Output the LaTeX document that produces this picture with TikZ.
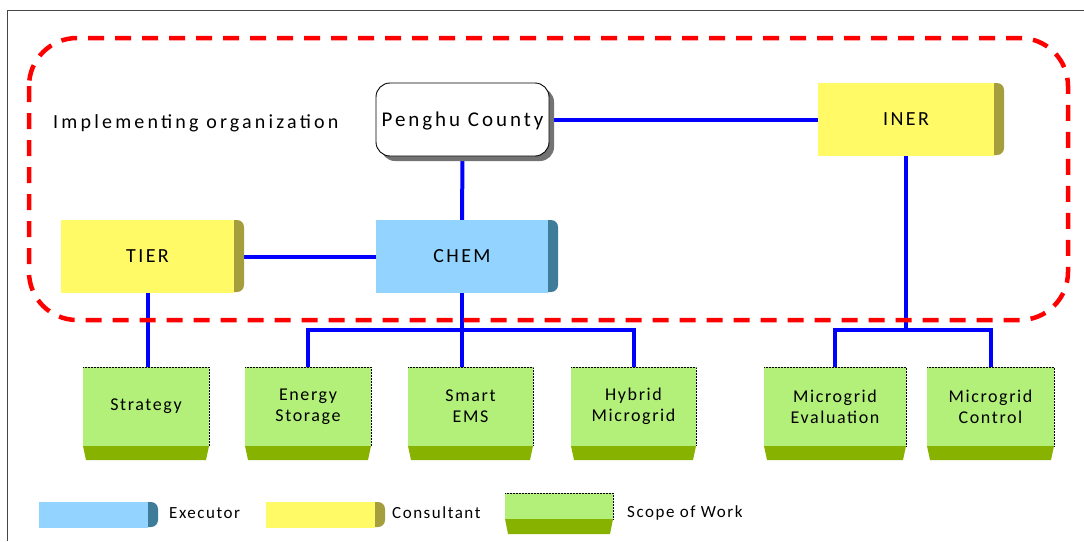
\documentclass[tikz,border=0pt]{standalone}
\usepackage{fontspec}
\setmainfont{Carlito}
\newfontfamily\lblfont{Carlito}[LetterSpace=12]
\newfontfamily\penghufont{Carlito}[LetterSpace=14]
\newfontfamily\implfont{Carlito}[LetterSpace=16]
\newfontfamily\smfont{Carlito}[LetterSpace=9]
\usetikzlibrary{shadows}
\definecolor{gface}{RGB}{178,240,122}
\definecolor{gbase}{RGB}{136,178,0}
\definecolor{yface}{RGB}{255,250,102}
\definecolor{yside}{RGB}{165,158,60}
\definecolor{bface}{RGB}{146,212,255}
\definecolor{bside}{RGB}{62,124,154}
\definecolor{cblue}{RGB}{0,0,255}
\definecolor{dred}{RGB}{255,0,0}
\definecolor{framecol}{RGB}{70,70,70}
\pgfdeclarelayer{connlayer}\pgfdeclarelayer{sidelayer}
\pgfsetlayers{connlayer,sidelayer,main}
\tikzset{
  box/.style={inner sep=0pt, outer sep=0pt, anchor=north west, align=center, text=black},
  bigtxt/.style={font=\lblfont\fontsize{20}{22}\selectfont, text depth=0pt},
  smtxt/.style={font=\smfont\fontsize{18}{21}\selectfont},
  legtxt/.style={font=\smfont\fontsize{17}{20}\selectfont, anchor=west, inner sep=0pt, text=black},
  conn/.style={draw=cblue, line width=4pt},
}
\newcommand\sidepiece[3]{%
  \begin{pgfonlayer}{sidelayer}
  \fill[#2, rounded corners=7pt] ([xshift=-14pt]#1.north east) rectangle ([xshift=#3,yshift=1pt]#1.south east);
  \end{pgfonlayer}}
\newcommand\basepiece[2]{%
  \fill[gbase] (#1.south west) -- (#1.south east) -- ([xshift=-3pt,yshift=-#2]#1.south east) -- ([xshift=3pt,yshift=-#2]#1.south west) -- cycle;
  \draw[densely dotted, line width=0.5pt] (#1.north west) -- (#1.north east) -- (#1.south east);}
\begin{document}
\begin{tikzpicture}[x=1pt, y=-1pt]
\useasboundingbox (0,0) rectangle (1084,541);
\draw[framecol, line width=1pt] (7.5,541) -- (7.5,10.5) -- (1084,10.5);
\draw[dred, line width=4.5pt, dash pattern=on 16pt off 11pt, rounded corners=48pt] (29,38) rectangle (1068,320);
\node[anchor=west, inner sep=0pt, text=black, font=\implfont\fontsize{20}{22}\selectfont] (impl) at (53,123) {Implementing organization};

% top boxes
\node[box, bigtxt, font=\penghufont\fontsize{21}{23}\selectfont, fill=white, draw=black, line width=0.9pt, rounded corners=14pt,
  minimum width=173pt, minimum height=73pt,
  drop shadow={shadow xshift=5pt, shadow yshift=-5pt, fill=black!55, opacity=1}] (penghu) at (376,83) {Penghu County};
\node[box, bigtxt, fill=yface, minimum width=176pt, minimum height=73pt] (iner) at (818,83) {INER};
\sidepiece{iner}{yside}{10pt}
\node[box, bigtxt, fill=yface, minimum width=173pt, minimum height=73pt] (tier) at (61,220) {TIER};
\sidepiece{tier}{yside}{10pt}
\node[box, bigtxt, fill=bface, minimum width=172pt, minimum height=73pt] (chem) at (376,220) {CHEM};
\sidepiece{chem}{bside}{10pt}

% bottom boxes
\node[box, smtxt, fill=gface, minimum width=126pt, minimum height=79pt] (strat) at (83,367) {Strategy};
\basepiece{strat}{14pt}
\node[box, smtxt, fill=gface, minimum width=126pt, minimum height=79pt] (energy) at (245,367) {Energy\\Storage};
\basepiece{energy}{14pt}
\node[box, smtxt, fill=gface, minimum width=125pt, minimum height=79pt] (smart) at (408,367) {Smart\\EMS};
\basepiece{smart}{14pt}
\node[box, smtxt, fill=gface, minimum width=125pt, minimum height=79pt] (hybrid) at (571,367) {Hybrid\\Microgrid};
\basepiece{hybrid}{14pt}
\node[box, smtxt, fill=gface, minimum width=142pt, minimum height=79pt] (eval) at (764,367) {Microgrid\\Evaluation};
\basepiece{eval}{14pt}
\node[box, smtxt, fill=gface, minimum width=127pt, minimum height=79pt] (control) at (927,367) {Microgrid\\Control};
\basepiece{control}{14pt}

% connectors
\begin{pgfonlayer}{connlayer}
\coordinate (busA) at (462,330);
\coordinate (busB) at (907,330);
\draw[conn] (penghu.east) -- (iner.west);
\draw[conn] (penghu.south) -- (chem.north);
\draw[conn] (tier.east) -- (chem.west);
\draw[conn] (tier.south) -- (tier.south |- strat.north);
\draw[conn] (chem.south) -- (chem.south |- smart.north);
\draw[conn] (energy.north) -- (energy.north |- busA) -- (hybrid.north |- busA) -- (hybrid.north);
\draw[conn] (iner.south) -- (iner.south |- busB);
\draw[conn] (eval.north) -- (eval.north |- busB) -- (control.north |- busB) -- (control.north);
\end{pgfonlayer}

% legend
\node[box, fill=bface, minimum width=109pt, minimum height=26pt] (legexec) at (39,502) {};
\sidepiece{legexec}{bside}{10pt}
\node[legtxt] (legexectxt) at (169,513) {Executor};
\node[box, fill=yface, minimum width=109pt, minimum height=26pt] (legcons) at (266,502) {};
\sidepiece{legcons}{yside}{10pt}
\node[legtxt] (legconstxt) at (392,513) {Consultant};
\node[box, fill=gface, minimum width=108pt, minimum height=26pt] (legscope) at (505,493) {};
\basepiece{legscope}{15pt}
\node[legtxt] (legscopetxt) at (627,513) {Scope of Work};
\end{tikzpicture}
\end{document}
